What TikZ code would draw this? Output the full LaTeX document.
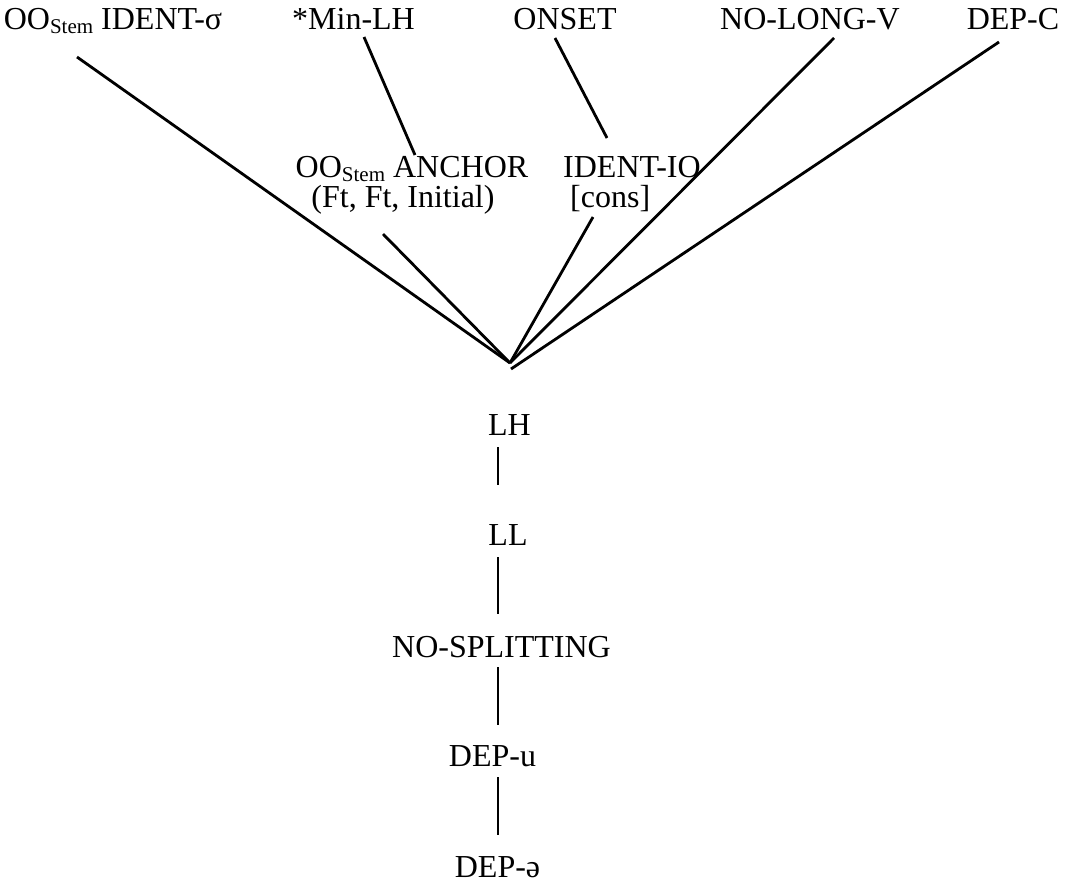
\documentclass[tikz,border=0pt]{standalone}
\usepackage{fontspec}
\setmainfont{Liberation Serif}
\usetikzlibrary{calc}
\newcommand\stemsub{\raisebox{-4pt}{\fontsize{21}{21}\selectfont Stem}}
\tikzset{
  lbl/.style={inner sep=0pt, anchor=base, font=\fontsize{32}{30}\selectfont},
  lblw/.style={lbl, anchor=base west},
  link/.style={line width=2.8pt, line cap=butt},
}
\begin{document}
\begin{tikzpicture}[x=1pt, y=-1pt]
\useasboundingbox (0,0) rectangle (1077,884);
% top row
\node[lbl] (ident) at (113,29) {OO\stemsub{} IDENT-σ};
\node[lbl] (minlh) at (353.5,29) {*Min-LH};
\node[lbl] (onset) at (565,29) {ONSET};
\node[lbl] (nolong) at (810,29) {NO-LONG-V};
\node[lbl] (depc) at (1013,29) {DEP-C};
% middle row (base = baseline of the last line)
\node[lbl, align=center] (anc) at (412,207) {OO\stemsub{} ANCHOR\\(Ft, Ft, Initial)\kern18pt};
\node[lblw, align=left] (identio) at (563,207) {IDENT-IO\\\kern7pt[cons]};
% apex
\coordinate (apex) at (510,363);
\coordinate (apexb) at (511,369);
% chain
\node[lbl] (lh) at (509.5,435) {LH};
\node[lbl] (ll) at (508,545) {LL};
\node[lbl] (nos) at (501.5,657) {NO-SPLITTING};
\node[lbl] (depu) at (492.5,766) {DEP-u};
\node[lbl] (depe) at (497.5,877) {DEP-ə};
% connectors
\draw[link] ($(ident.base)+(-36,28)$) -- (apex);
\draw[link] ($(minlh.base)+(10.5,8)$) -- ($(anc.base)+(3,-52)$);
\draw[link] ($(onset.base)+(-10,9)$) -- ($(identio.base west)+(44,-69)$);
\draw[link] ($(nolong.base)+(24,9)$) -- (apex);
\draw[link] ($(depc.base)+(-14,13)$) -- (apexb);
\draw[link] ($(anc.base)+(-29,27)$) -- (apex);
\draw[link] ($(identio.base west)+(30,10)$) -- (apex);
\draw[link] ($(lh.base)+(-11.5,12)$) -- ($(ll.base)+(-10,-60)$);
\draw[link] ($(ll.base)+(-10,12)$) -- ($(nos.base)+(-3.5,-43)$);
\draw[link] ($(nos.base)+(-3.5,10)$) -- ($(depu.base)+(5.5,-41)$);
\draw[link] ($(depu.base)+(5.5,11)$) -- ($(depe.base)+(0.5,-42)$);
\end{tikzpicture}
\end{document}
